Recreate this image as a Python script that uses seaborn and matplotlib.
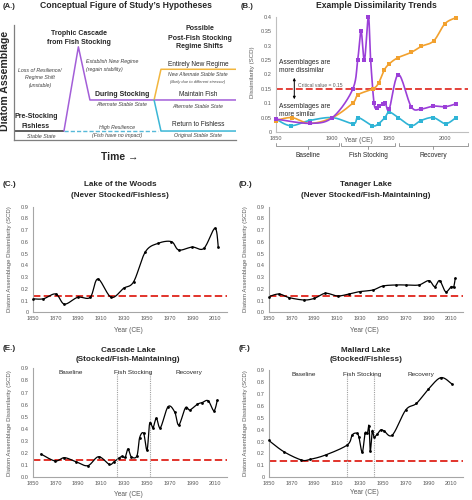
import numpy as np
import pandas as pd
import matplotlib
matplotlib.use("Agg")
import matplotlib.pyplot as plt
import seaborn as sns

W, H = 472, 500

# ---------------- data ----------------
# Panel A: conceptual lines (time 0-100, assemblage 0-100)
pre_t = [0, 22.5]
pre_v = [7.8, 7.8]
cascade_t = [22.5, 29, 34.2, 100]
cascade_v = [7.8, 81, 34.8, 34.8]
resil_t = [22.5, 65]
resil_v = [7.8, 7.8]
newreg_t = [63.1, 66.2, 100]
newreg_v = [34.8, 61.5, 61.5]
return_t = [63.1, 66.2, 100]
return_v = [34.8, 7.8, 7.8]

# Panel B: example dissimilarity trends
b_purple_year = [1850, 1880, 1900, 1918, 1922.5, 1925.5, 1928.5, 1932, 1934, 1937, 1939.3,
                 1941.6, 1944.6, 1947, 1950.5, 1958.6, 1970, 1978.7, 1989.6, 2000.2, 2009.7]
b_purple_val = [0.045, 0.03, 0.05, 0.148, 0.25, 0.35, 0.25, 0.40, 0.25, 0.10, 0.085,
                0.092, 0.097, 0.10, 0.08, 0.20, 0.088, 0.08, 0.09, 0.088, 0.098]
b_orange_year = [1850, 1864, 1880, 1900, 1918, 1923, 1936, 1941, 1946, 1950.5, 1958,
                 1970, 1979, 1990, 2000, 2010]
b_orange_val = [0.04, 0.05, 0.03, 0.05, 0.10, 0.13, 0.15, 0.17, 0.215, 0.237, 0.258,
                0.277, 0.298, 0.317, 0.377, 0.398]
b_cyan_year = [1850, 1863, 1880, 1900, 1918.6, 1923, 1935.6, 1941, 1946.6, 1950.5, 1958.6,
               1970, 1978.7, 1989.6, 2000.5, 2009.7]
b_cyan_val = [0.045, 0.022, 0.04, 0.05, 0.029, 0.05, 0.022, 0.029, 0.05, 0.069, 0.05,
              0.022, 0.04, 0.05, 0.029, 0.05]
b_periods = ["Baseline", "Fish Stocking", "Recovery"]
b_period_start = [1850, 1908, 1959]
b_period_end = [1906, 1956, 2020]
b_critical = 0.15

# Panel C: Lake of the Woods
c_year = [1850, 1859.3, 1870.2, 1877.8, 1889.5, 1900.4, 1907.1, 1918.8, 1929.7, 1938.5,
          1948.7, 1959.9, 1971.6, 1978, 1989.8, 2000, 2009.7, 2012.6]
c_val = [0.115, 0.115, 0.156, 0.07, 0.128, 0.128, 0.284, 0.128, 0.205, 0.261,
         0.515, 0.588, 0.602, 0.531, 0.556, 0.545, 0.716, 0.556]

# Panel D: Tanager Lake
d_year = [1850, 1859, 1868, 1881, 1890, 1899.7, 1910.5, 1920.2, 1929.6, 1941.3, 1950,
          1961.2, 1970.5, 1981.6, 1990.4, 1995.4, 1999.8, 2005, 2010, 2012, 2013.5]
d_val = [0.133, 0.156, 0.125, 0.105, 0.119, 0.162, 0.139, 0.156, 0.176, 0.19, 0.224,
         0.233, 0.233, 0.233, 0.27, 0.219, 0.27, 0.176, 0.219, 0.213, 0.29]

# Panel E: Cascade Lake
e_year = [1857.3, 1869.6, 1877.8, 1887.8, 1898.3, 1907.7, 1917.1, 1920.9, 1925.3, 1928.2,
          1931, 1933.5, 1936.4, 1941.3, 1943.7, 1947.2, 1950.2, 1952.5, 1955.4, 1958.4,
          1961.9, 1968.6, 1974.4, 1978, 1983.9, 1987.7, 1994.2, 1998.5, 2003.8, 2008.8, 2011.8]
e_val = [0.192, 0.135, 0.162, 0.129, 0.096, 0.170, 0.107, 0.125, 0.157, 0.172,
         0.165, 0.234, 0.17, 0.176, 0.327, 0.363, 0.225, 0.446, 0.41, 0.487,
         0.41, 0.583, 0.54, 0.432, 0.575, 0.556, 0.603, 0.617, 0.632, 0.55, 0.638]
e_period_lines = [1924, 1953]
e_period_center = [1883, 1938, 1987]

# Panel F: Mallard Lake
f_year = [1850, 1863.2, 1878.7, 1886, 1899.8, 1918.8, 1923.2, 1927, 1929, 1932, 1934.4,
          1936.5, 1937.9, 1939, 1940.8, 1942.3, 1945, 1948.1, 1951, 1958.4, 1970.1,
          1979.5, 1990, 2000.9, 2010.5]
f_val = [0.31, 0.215, 0.145, 0.15, 0.187, 0.271, 0.355, 0.37, 0.34, 0.21, 0.37,
         0.37, 0.433, 0.22, 0.39, 0.34, 0.36, 0.397, 0.39, 0.355, 0.565,
         0.62, 0.74, 0.836, 0.783]
f_period_lines = [1919, 1942]
f_period_center = [1881, 1932, 1983]

lake_periods = ["Baseline", "Fish Stocking", "Recovery"]
lake_critical = 0.14

# ---------------- style ----------------
sns.set_style("white")
plt.rcParams["font.family"] = ["Liberation Sans", "DejaVu Sans"]
TXT = "#262626"
GRAY = "#595959"
SPINE = "#A6A6A6"
RED = "#E2332B"
PURPLE = "#9B3FD8"
ORANGE = "#F2A12E"
CYAN = "#2FB4D6"

fig = plt.figure(figsize=(W / 100, H / 100), dpi=100)


def ft(x, y, s, **kw):
    kw.setdefault("ha", "center")
    kw.setdefault("va", "center")
    kw.setdefault("color", TXT)
    fig.text(x / W, 1 - y / H, s, **kw)


def box(l, t, r, b):
    return [l / W, 1 - b / H, (r - l) / W, (b - t) / H]


def smooth(x, y, n=16):
    pts = np.column_stack([x, y]).astype(float)
    P = np.vstack([pts[0], pts, pts[-1]])
    out = []
    t = np.linspace(0, 1, n, endpoint=False)[:, None]
    for i in range(1, len(P) - 2):
        p0, p1, p2, p3 = P[i - 1], P[i], P[i + 1], P[i + 2]
        c1 = p1 + (p2 - p0) / 6
        c2 = p2 - (p3 - p1) / 6
        out.append((1 - t) ** 3 * p1 + 3 * (1 - t) ** 2 * t * c1
                   + 3 * (1 - t) * t ** 2 * c2 + t ** 3 * p2)
    out.append(pts[-1:])
    s = np.vstack(out)
    return s[:, 0], s[:, 1]


def style_axes(ax, spine_col=SPINE):
    for side in ["top", "right"]:
        ax.spines[side].set_visible(False)
    for side in ["left", "bottom"]:
        ax.spines[side].set_color(spine_col)
        ax.spines[side].set_linewidth(0.8)
    ax.tick_params(length=0, labelsize=4.1, colors=GRAY, pad=3)
    ax.set_xlabel("")
    ax.set_ylabel("")


# ---------------- Panel A ----------------
axA = fig.add_axes(box(14, 25, 236, 140))
axA.set_xlim(0, 100)
axA.set_ylim(0, 100)
axA.plot(pre_t, pre_v, color="#333333", lw=1.1, solid_capstyle="butt")
axA.plot(resil_t, resil_v, color="#56B9D9", lw=1.0, ls=(0, (3, 1.5)))
axA.plot(cascade_t, cascade_v, color="#A35ED8", lw=1.1)
axA.plot(newreg_t, newreg_v, color="#F2B63E", lw=1.1)
axA.plot(return_t, return_v, color="#3BB6D6", lw=1.1)
axA.set_xticks([])
axA.set_yticks([])
for side in ["top", "right"]:
    axA.spines[side].set_visible(False)
for side in ["left", "bottom"]:
    axA.spines[side].set_color("#7F7F7F")
    axA.spines[side].set_linewidth(0.9)

ft(3, 6, "(A.)", ha="left", fontweight="bold", fontsize=5.5)
ft(126, 6, "Conceptual Figure of Study\u2019s Hypotheses", fontweight="bold", fontsize=6.2)
ft(79, 33, "Trophic Cascade", fontweight="bold", fontsize=5)
ft(79, 42, "from Fish Stocking", fontweight="bold", fontsize=5)
it = dict(fontstyle="italic", fontsize=3.8, color="#404040")
ft(40, 71, "Loss of Resilience/", **it)
ft(40, 78, "Regime Shift", **it)
ft(40, 85, "(unstable)", **it)
ft(86, 62, "Establish New Regime", ha="left", **it)
ft(86, 69, "(regain stability)", ha="left", **it)
ft(122, 94.5, "During Stocking", fontweight="bold", fontsize=5)
ft(122, 105, "Alternate Stable State", **it)
ft(36, 117, "Pre-Stocking", fontweight="bold", fontsize=5)
ft(36, 126, "Fishless", fontweight="bold", fontsize=5)
ft(41, 137, "Stable State", **it)
ft(117, 127, "High Resilience", **it)
ft(117, 136, "(Fish have no impact)", **it)
ft(200, 29, "Possible", fontweight="bold", fontsize=5)
ft(200, 38, "Post-Fish Stocking", fontweight="bold", fontsize=5)
ft(200, 47, "Regime Shifts", fontweight="bold", fontsize=5)
ft(198, 64, "Entirely New Regime", fontsize=4.7)
ft(198, 75, "New Alternate Stable State", fontstyle="italic", fontsize=3.6, color="#404040")
ft(198, 82, "(likely due to different stressor)", fontstyle="italic", fontsize=2.9, color="#404040")
ft(198, 94.5, "Maintain Fish", fontsize=4.7)
ft(198, 106, "Alternate Stable State", **it)
ft(198, 125, "Return to Fishless", fontsize=4.7)
ft(198, 136, "Original Stable State", **it)
ft(5, 81, "Diatom Assemblage", fontweight="bold", fontsize=7.6, rotation=90)
ft(120, 157, "Time \u2192", fontweight="bold", fontsize=7.4)

# ---------------- Panel B ----------------
axB = fig.add_axes(box(276, 17, 468, 132))
for yrs, vals, col in [(b_cyan_year, b_cyan_val, CYAN),
                       (b_orange_year, b_orange_val, ORANGE),
                       (b_purple_year, b_purple_val, PURPLE)]:
    sx, sy = smooth(yrs, vals)
    sns.lineplot(x=sx, y=sy, sort=False, estimator=None, color=col, lw=1.2, ax=axB)
    sns.scatterplot(x=yrs, y=vals, color=col, s=6, marker="s", linewidth=0, ax=axB,
                    clip_on=False, zorder=4)
axB.axhline(b_critical, color=RED, lw=1.3, ls=(0, (3.8, 1.7)), zorder=1)
axB.set_xlim(1850, 2020.4)
axB.set_ylim(0, 0.4)
axB.set_yticks(np.arange(0, 0.401, 0.05))
axB.set_yticklabels(["0", "0.05", "0.1", "0.15", "0.2", "0.25", "0.3", "0.35", "0.4"])
axB.set_xticks([1850, 1900, 1950, 2000])
style_axes(axB, "#BFBFBF")
ft(241, 6, "(B.)", ha="left", fontweight="bold", fontsize=5.5)
ft(376, 6, "Example Dissimilarity Trends", fontweight="bold", fontsize=6.2)
ft(252.5, 72, "Dissimilarity (SCD)", rotation=90, fontsize=4.4, color=GRAY)
ft(358, 140, "Year (CE)", fontsize=4.8, color=GRAY)
ft(279, 62, "Assemblages are", ha="left", fontsize=4.8)
ft(279, 71, "more dissimilar", ha="left", fontsize=4.8)
ft(279, 106, "Assemblages are", ha="left", fontsize=4.8)
ft(279, 114, "more similar", ha="left", fontsize=4.8)
ft(298, 85.5, "Critical value = 0.15", ha="left", fontsize=3.6, color=GRAY)
fig.add_artist(matplotlib.patches.FancyArrowPatch(
    (294.3 / W, 1 - 75 / H), (294.3 / W, 1 - 102 / H), arrowstyle="<|-|>",
    mutation_scale=3.5, lw=0.7, color="black", transform=fig.transFigure))
tr = axB.get_xaxis_transform()
yf = lambda y: (132 - y) / 115
for name, s, e in zip(b_periods, b_period_start, b_period_end):
    m = (s + e) / 2
    axB.plot([s, s, e, e], [yf(143), yf(146), yf(146), yf(143)], color="#8C8C8C",
             lw=0.6, transform=tr, clip_on=False)
    axB.plot([m, m], [yf(146), yf(149)], color="#8C8C8C", lw=0.6, transform=tr, clip_on=False)
    axB.text(m, yf(155.5), name, transform=tr, ha="center", va="center", fontsize=4.7,
             color=TXT)


# ---------------- Panels C-F ----------------
def lake(ax, years, vals, zero_label, lines=None, centers=None):
    sx, sy = smooth(years, vals)
    sns.lineplot(x=sx, y=sy, sort=False, estimator=None, color="black", lw=0.9, ax=ax)
    sns.scatterplot(x=years, y=vals, color="black", s=4, linewidth=0, ax=ax, zorder=4,
                    clip_on=False)
    ax.axhline(lake_critical, color=RED, lw=1.4, ls=(0, (3.8, 1.7)), zorder=1)
    ax.set_xlim(1850, 2020)
    ax.set_ylim(0, 0.9)
    ax.set_xticks(np.arange(1850, 2011, 20))
    ax.set_yticks(np.arange(0, 0.91, 0.1))
    ax.set_yticklabels([zero_label] + [f"{v:.1f}" for v in np.arange(0.1, 0.91, 0.1)])
    style_axes(ax)
    if lines:
        for x in lines:
            ax.axvline(x, ymin=0, ymax=0.97, color="#A0A0A0", lw=0.8, ls=(0, (1, 1)))
        for name, c in zip(lake_periods, centers):
            ax.text(c, 0.865, name, ha="center", va="center", fontsize=4.6, color=TXT)


axC = fig.add_axes(box(32.7, 206.7, 226.7, 312.3))
lake(axC, c_year, c_val, "0")
axD = fig.add_axes(box(268.7, 206.7, 462.7, 312.3))
lake(axD, d_year, d_val, "0.0")
axE = fig.add_axes(box(32.7, 368.3, 226.7, 477.3))
lake(axE, e_year, e_val, "0.0", e_period_lines, e_period_center)
axF = fig.add_axes(box(268.7, 370, 462.7, 477.3))
lake(axF, f_year, f_val, "0", f_period_lines, f_period_center)

ylab = "Diatom Assemblage Dissimilarity (SCD)"
bt = dict(fontweight="bold", fontsize=5.9)
ft(3, 184, "(C.)", ha="left", **bt)
ft(120, 185, "Lake of the Woods", **bt)
ft(120, 195.5, "(Never Stocked/Fishless)", **bt)
ft(9.5, 259.5, ylab, rotation=90, fontsize=4.3, color=GRAY)
ft(128, 330, "Year (CE)", fontsize=4.8, color=GRAY)

ft(239, 184, "(D.)", ha="left", **bt)
ft(366, 185, "Tanager Lake", **bt)
ft(366, 195.5, "(Never Stocked/Fish-Maintaining)", **bt)
ft(245.5, 259.5, ylab, rotation=90, fontsize=4.3, color=GRAY)
ft(364, 330, "Year (CE)", fontsize=4.8, color=GRAY)

ft(3, 349, "(E.)", ha="left", **bt)
ft(128, 350, "Cascade Lake", **bt)
ft(128, 359.5, "(Stocked/Fish-Maintaining)", **bt)
ft(9.5, 423, ylab, rotation=90, fontsize=4.3, color=GRAY)
ft(128, 494, "Year (CE)", fontsize=4.8, color=GRAY)

ft(239, 349, "(F.)", ha="left", **bt)
ft(366, 350, "Mallard Lake", **bt)
ft(366, 359.5, "(Stocked/Fishless)", **bt)
ft(245.5, 423, ylab, rotation=90, fontsize=4.3, color=GRAY)
ft(364, 492, "Year (CE)", fontsize=4.8, color=GRAY)

fig.savefig("out.png", dpi=100)
